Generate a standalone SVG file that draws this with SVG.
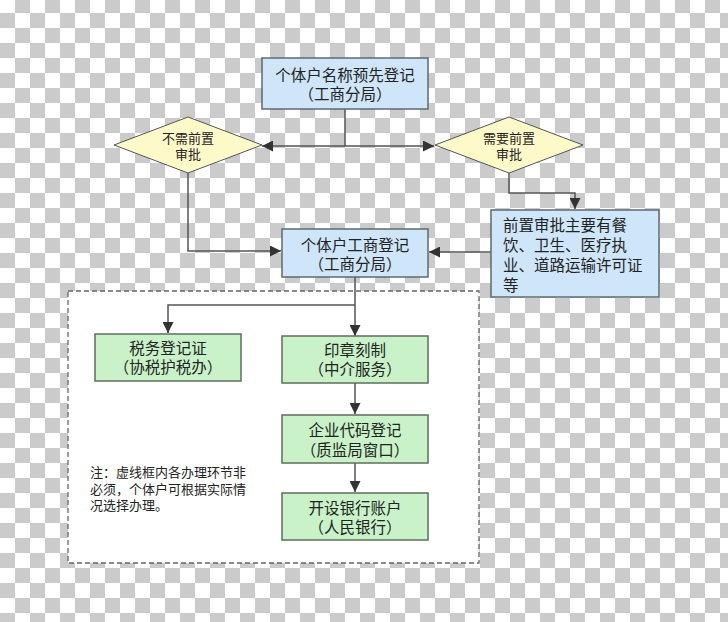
<svg xmlns="http://www.w3.org/2000/svg" width="728" height="622" viewBox="0 0 728 622">
<style>
text{font-family:"Noto Sans CJK SC","Liberation Sans",sans-serif;fill:#222}
.bx{fill:#cfe6fa;stroke:#5e6b6c;stroke-width:1.5}
.gx{fill:#c9f2c9;stroke:#5e6e5e;stroke-width:1.5}
.dm{fill:#fdf9c9;stroke:#555;stroke-width:1}
.t16{font-size:15.5px;text-anchor:middle}
.t13{font-size:13px;text-anchor:middle}
.ln{fill:none;stroke:#555;stroke-width:1.5}
</style>
<defs>
<pattern id="chk" x="0" y="-2" width="30" height="30" patternUnits="userSpaceOnUse">
<rect width="30" height="30" fill="#fff"/>
<rect x="15" y="0" width="15" height="15" fill="#cbcbcb"/>
<rect x="0" y="15" width="15" height="15" fill="#cbcbcb"/>
</pattern>
<marker id="ah" viewBox="0 0 10 10" refX="10" refY="5" markerWidth="11" markerHeight="11" markerUnits="userSpaceOnUse" orient="auto">
<path d="M0,0L10,5L0,10z" fill="#333"/>
</marker>
</defs>
<rect width="728" height="622" fill="url(#chk)"/>
<g id="dashed-area">
<rect x="68" y="291" width="411" height="272" fill="#fff" stroke="#666" stroke-width="1.3" stroke-dasharray="5,3"/>
</g>
<g id="connectors">
<path class="ln" d="M345,109V146"/>
<path class="ln" d="M345,146H262" marker-end="url(#ah)"/>
<path class="ln" d="M345,146H434" marker-end="url(#ah)"/>
<path class="ln" d="M188,173V251H281" marker-end="url(#ah)"/>
<path class="ln" d="M509,173V193H575V209" marker-end="url(#ah)"/>
<path class="ln" d="M491,252H429" marker-end="url(#ah)"/>
<path class="ln" d="M355,277V336" marker-end="url(#ah)"/>
<path class="ln" d="M355,305H168V333" marker-end="url(#ah)"/>
<path class="ln" d="M355,383V414" marker-end="url(#ah)"/>
<path class="ln" d="M355,463V492" marker-end="url(#ah)"/>
</g>
<g id="n-top">
<rect class="bx" x="262" y="58" width="166" height="51"/>
<text class="t16" x="345" y="81">个体户名称预先登记</text>
<text class="t16" x="345" y="100">（工商分局）</text>
</g>
<g id="n-no-approval">
<path class="dm" d="M188,117L262,145L188,173L114,145z"/>
<text class="t13" x="188" y="143">不需前置</text>
<text class="t13" x="188" y="159">审批</text>
</g>
<g id="n-need-approval">
<path class="dm" d="M509,117L583,145L509,173L435,145z"/>
<text class="t13" x="509" y="143">需要前置</text>
<text class="t13" x="509" y="159">审批</text>
</g>
<g id="n-reg">
<rect class="bx" x="282" y="229" width="146" height="48"/>
<text class="t16" x="355" y="251">个体户工商登记</text>
<text class="t16" x="355" y="270">（工商分局）</text>
</g>
<g id="n-pre">
<rect class="bx" x="491" y="210" width="168" height="87"/>
<text x="503" y="231" font-size="15.5">前置审批主要有餐</text>
<text x="503" y="251" font-size="15.5">饮、卫生、医疗执</text>
<text x="503" y="271" font-size="15.5">业、道路运输许可证</text>
<text x="503" y="291" font-size="15.5">等</text>
</g>
<g id="n-tax">
<rect class="gx" x="95" y="334" width="146" height="47"/>
<text class="t16" x="168" y="354">税务登记证</text>
<text class="t16" x="168" y="373">（协税护税办）</text>
</g>
<g id="n-seal">
<rect class="gx" x="282" y="336" width="146" height="47"/>
<text class="t16" x="355" y="356">印章刻制</text>
<text class="t16" x="355" y="375">（中介服务）</text>
</g>
<g id="n-code">
<rect class="gx" x="282" y="415" width="146" height="48"/>
<text class="t16" x="355" y="436">企业代码登记</text>
<text class="t16" x="355" y="456">（质监局窗口）</text>
</g>
<g id="n-bank">
<rect class="gx" x="282" y="493" width="146" height="47"/>
<text class="t16" x="355" y="514">开设银行账户</text>
<text class="t16" x="355" y="533">（人民银行）</text>
</g>
<g id="note">
<text x="90" y="477" font-size="13">注：虚线框内各办理环节非</text>
<text x="90" y="494" font-size="13">必须，个体户可根据实际情</text>
<text x="90" y="510" font-size="13">况选择办理。</text>
</g>
</svg>
